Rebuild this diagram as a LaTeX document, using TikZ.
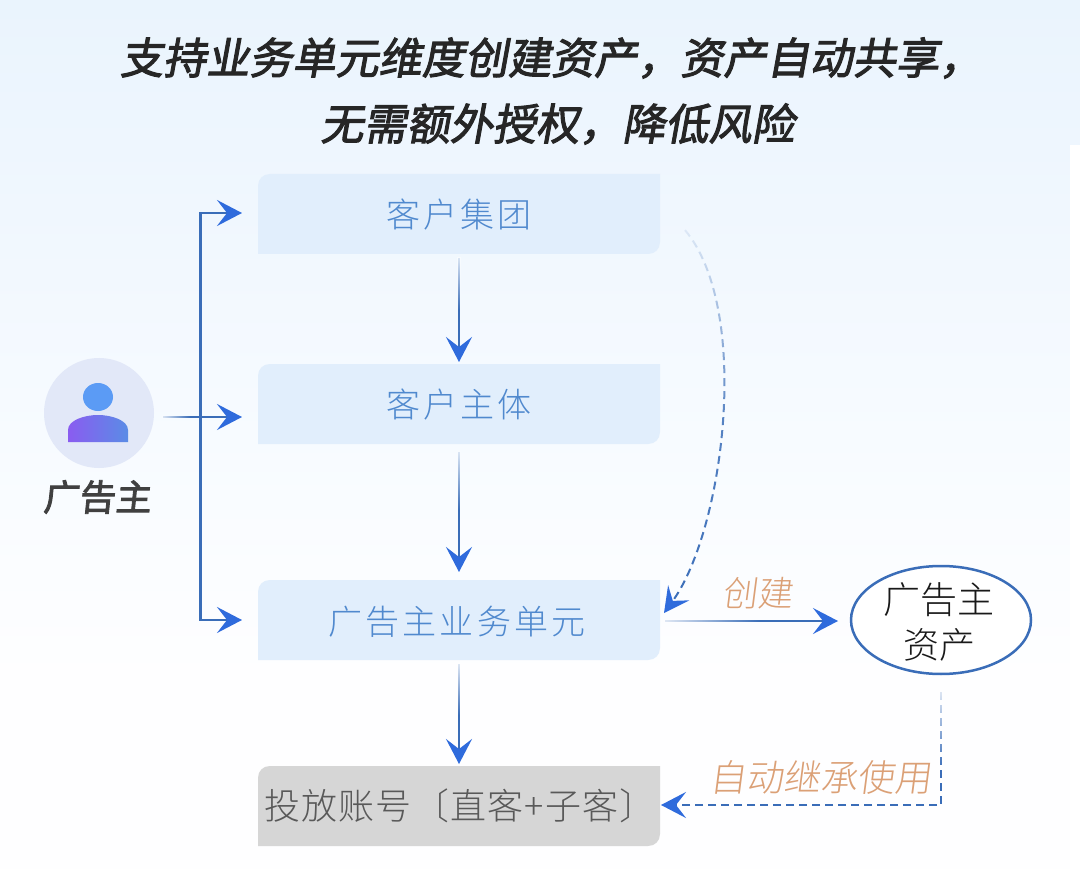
\documentclass[tikz,border=0pt]{standalone}
\usepackage{fontspec}
\usetikzlibrary{arrows.meta,fadings}
\newfontfamily\cjkl{Noto Sans CJK SC Light}
\newfontfamily\cjks[FakeSlant=0.18,FakeBold=2.4]{Noto Sans CJK SC}
\newfontfamily\cjkb[FakeSlant=0.1,FakeBold=2.4]{Noto Sans CJK SC}
\newfontfamily\cjkls[FakeSlant=0.13]{Noto Sans CJK SC Light}
\definecolor{bgtop}{HTML}{EAF4FD}
\definecolor{bgup}{HTML}{EEF6FE}
\definecolor{bgmid}{HTML}{F9FCFF}
\definecolor{bgback}{HTML}{FEFEFF}
\definecolor{boxblue}{HTML}{E1EEFC}
\definecolor{boxgray}{HTML}{D6D6D6}
\definecolor{txtblue}{HTML}{5089CE}
\definecolor{tipblue}{HTML}{2F6BDC}
\definecolor{lineblue}{HTML}{3A6DB8}
\definecolor{orangetxt}{HTML}{DBA076}
\definecolor{avbg}{HTML}{E2E8F8}
\definecolor{avhead}{HTML}{5B9BF5}
\definecolor{avl}{HTML}{8A5CF0}
\definecolor{avr}{HTML}{5A8CE6}
\tikzfading[name=curvefade,top color=transparent!90,bottom color=transparent!0,middle color=transparent!15]
\tikzset{
  x=1pt,y=-1pt,
  conn/.style={draw=lineblue,line width=1.7pt,-{Stealth[length=25pt,width=26pt,inset=10pt,color=tipblue,fill=tipblue]}},
  trunkline/.style={conn,line width=2.3pt},
  dashconn/.style={conn,dash pattern=on 8pt off 5pt,line width=2pt},
  boxtext/.style={inner sep=0pt,font=\fontsize{34}{34}\selectfont\cjkl,text=txtblue},
  orangelabel/.style={inner sep=0pt,font=\fontsize{35}{35}\selectfont\cjkls,text=orangetxt},
  titletext/.style={inner sep=0pt,font=\fontsize{43.1}{43.1}\selectfont\cjks,text=black!85},
  fadeover/.style={opacity=.85},
}
\newcommand{\tbox}[5]{%
  \fill[#5] (#1+12,#2) -- (#3,#2) -- (#3,#4-12) .. controls (#3,#4-5) and (#3-5,#4) .. (#3-12,#4) -- (#1,#4) -- (#1,#2+12) .. controls (#1,#2+5) and (#1+5,#2) .. (#1+12,#2) -- cycle;
}
\begin{document}
\begin{tikzpicture}
\useasboundingbox (0,0) rectangle (1080,869);
\shade[top color=bgtop,bottom color=bgup] (0,0) rectangle (1080,146);
\shade[top color=bgup,bottom color=bgmid] (0,145) rectangle (1080,501);
\shade[top color=bgmid,bottom color=bgback] (0,500) rectangle (1080,680);
\fill[bgback] (0,679) rectangle (1080,869);
\fill[white] (1070,145) rectangle (1080,869);
\node[titletext] (t1) at (551,58) {支持业务单元维度创建资产，资产自动共享，};
\node[titletext] (t2) at (557.5,124) {无需额外授权，降低风险};
\tbox{258}{174}{660}{254}{boxblue}
\tbox{258}{364}{660}{444}{boxblue}
\tbox{258}{580}{660}{660}{boxblue}
\tbox{258}{766}{660}{846}{boxgray}
\node[boxtext] (n1) at (459,215) {\addfontfeature{LetterSpace=8.5}客户集团};
\node[boxtext] (n2) at (459,405) {\addfontfeature{LetterSpace=8.5}客户主体};
\node[boxtext] (n3) at (457,622) {\addfontfeature{LetterSpace=9.5}广告主业务单元};
\node[boxtext,text=black!65,font=\fontsize{36}{36}\selectfont\cjkl] (n4) at (460,806) {\addfontfeature{LetterSpace=3.5}投放账号〔直客+子客〕};
% avatar
\fill[avbg] (99,413) circle[radius=55pt];
\node[circle,inner sep=0pt,minimum size=110pt] (av) at (99,413) {};
\fill[avhead] (98,397) ellipse[x radius=15pt,y radius=14pt];
\shade[left color=avl,right color=avr] (68,442) -- (68,430) .. controls (68,420) and (85,415) .. (98,415) .. controls (111,415) and (128,420) .. (128,430) -- (128,442) -- cycle;
\node[inner sep=0pt,font=\fontsize{36}{36}\selectfont\cjkb,text=black!75] (lab) at (97,497) {广告主};
% trunk
\coordinate (start) at (163,417);
\coordinate (trunk) at (200.5,417);
\coordinate (in1) at (242,213);
\coordinate (in2) at (242,417);
\coordinate (in3) at (242,620);
\draw[trunkline] (start) -- (in2);
\draw[trunkline] (trunk) |- (in1);
\draw[trunkline] (trunk) |- (in3);
\fill[bgmid,path fading=east,fadeover] (162,415) rectangle (190,419);
% verticals
\coordinate (v1a) at (459,258); \coordinate (v1b) at (459,362);
\coordinate (v2a) at (459,452); \coordinate (v2b) at (459,572);
\coordinate (v3a) at (459,664); \coordinate (v3b) at (459,764);
\draw[conn] (v1a) -- (v1b);
\draw[conn] (v2a) -- (v2b);
\draw[conn] (v3a) -- (v3b);
\fill[bgmid,path fading=south,fadeover] (457,257) rectangle (461,310);
\fill[bgmid,path fading=south,fadeover] (457,451) rectangle (461,510);
\fill[bgback,path fading=south,fadeover] (457,663) rectangle (461,715);
% curve
\coordinate (ca) at (685,230);
\coordinate (cb) at (664,613);
\draw[dashconn,path fading=curvefade] (ca) .. controls (752,310) and (724,530) .. (cb);
% ellipse
\draw[draw=lineblue,line width=2.5pt,fill=white] (941,620) ellipse[x radius=90pt,y radius=54pt];
\node[inner sep=0pt,minimum width=180pt,minimum height=108pt] (ell) at (941,620) {};
\node[inner sep=0pt,font=\fontsize{37}{37}\selectfont\cjkl,text=black!90] (e1) at (939,600) {广告主};
\node[inner sep=0pt,font=\fontsize{36}{36}\selectfont\cjkl,text=black!90] (e2) at (939,645) {资产};
% create
\coordinate (cr) at (665,621);
\coordinate (crb) at (838,621);
\draw[conn] (cr) -- (crb);
\fill[bgback,path fading=east,fadeover] (664,619) rectangle (760,623);
\node[orangelabel] (l1) at (757,593) {创建};
% inherit
\coordinate (ia) at (941,692);
\coordinate (ic) at (941,805);
\coordinate (ib) at (661,805);
\draw[dashconn] (ia) -- (ic) -- (ib);
\fill[bgback,path fading=south,fadeover] (938.5,690) rectangle (943.5,770);
\node[orangelabel,font=\fontsize{37}{37}\selectfont\cjkls] (l2) at (820,777) {自动继承使用};
\end{tikzpicture}
\end{document}
